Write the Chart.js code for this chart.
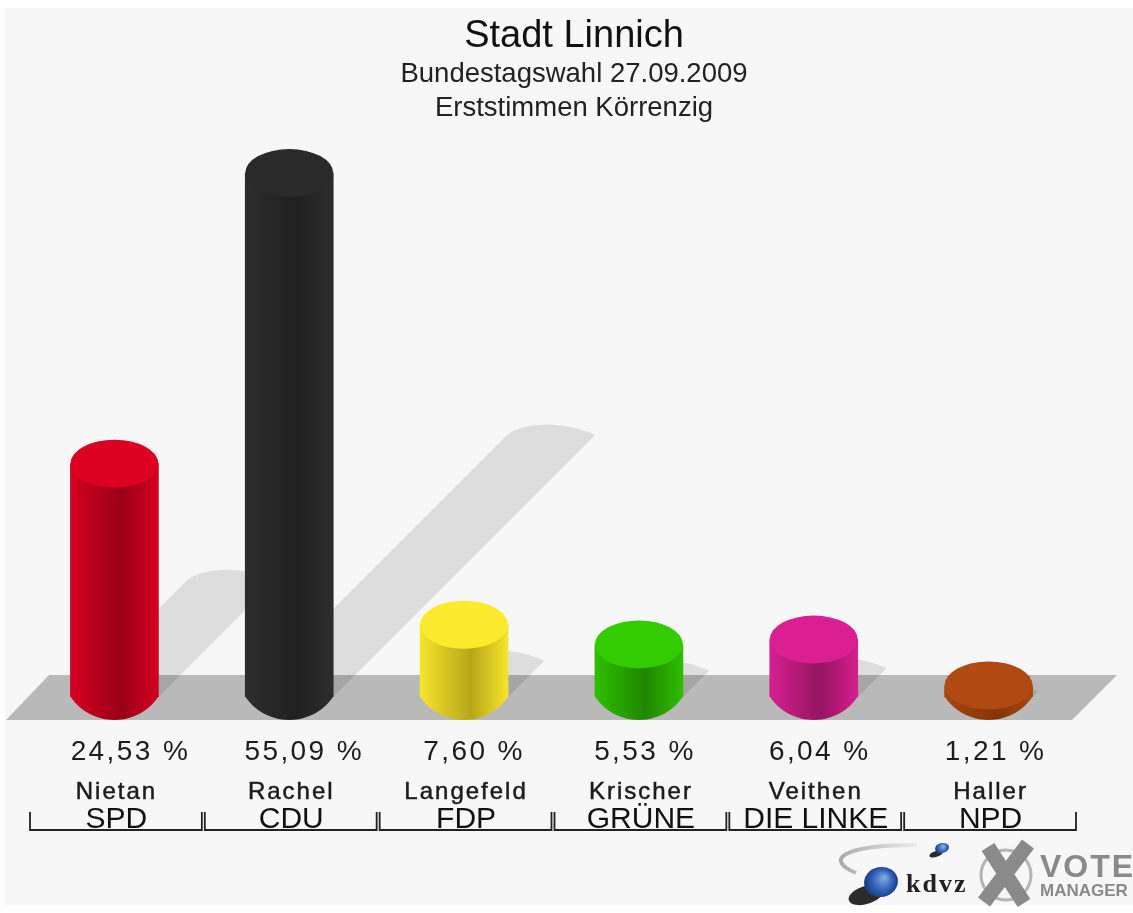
<!DOCTYPE html>
<html>
<head>
<meta charset="utf-8">
<title>Stadt Linnich</title>
<script src="https://cdn.jsdelivr.net/npm/chart.js@4/dist/chart.umd.min.js"></script>
<style>
    html, body { margin: 0; background: #fff; }
    #wrap { width: 1133px; height: 913px; }
    canvas { filter: blur(0.6px); }
</style>
</head>
<body>
<div id="wrap"><canvas id="chart"></canvas></div>
<script>
const titleText = 'Stadt Linnich';
const subtitleLines = ['Bundestagswahl 27.09.2009', 'Erststimmen Körrenzig'];
const parties = ['SPD', 'CDU', 'FDP', 'GRÜNE', 'DIE LINKE', 'NPD'];
const candidates = ['Nietan', 'Rachel', 'Langefeld', 'Krischer', 'Veithen', 'Haller'];
const shares = [24.53, 55.09, 7.60, 5.53, 6.04, 1.21];
const capColors = ['#dc0021', '#2a2a2a', '#fcea2d', '#33cc00', '#d91f92', '#b04a12'];
const sideLight = ['#d4001f', '#2d2d2d', '#f5e52b', '#2fbe00', '#d61f90', '#a8460f'];
const sideDark = ['#9a0018', '#202020', '#b8a61a', '#1f8600', '#951560', '#843509'];
const percentNudge = [16, 15, 10, 6, 6, 7]; // the percent labels sit right of the bars

const FONT = '"Liberation Sans", Arial, sans-serif';
const BAR_W = 88;
const RY = 24;

const sideGradient = (ctx, cx, i) => {
    const g = ctx.createLinearGradient(cx - BAR_W / 2, 0, cx + BAR_W / 2, 0);
    g.addColorStop(0, sideLight[i]);
    g.addColorStop(0.58, sideDark[i]);
    g.addColorStop(1, sideLight[i]);
    return g;
};

const cylinderPlugin = {
    id: 'cylinder',
    beforeDraw(chart) {
        const { ctx, width, height } = chart;
        ctx.save();
        ctx.fillStyle = '#f7f7f7';
        ctx.fillRect(5, 8, width - 5, height - 16);
        ctx.restore();
    },
    beforeDatasetsDraw(chart) {
        const { ctx, chartArea, scales } = chart;
        const base = scales.y.getPixelForValue(0);
        const meta = chart.getDatasetMeta(0);
        // floor
        ctx.save();
        ctx.fillStyle = '#b9b9b9';
        ctx.beginPath();
        ctx.moveTo(chartArea.left - 21, base + 23);
        ctx.lineTo(chartArea.left + 22, base - 22);
        ctx.lineTo(chartArea.right + 41, base - 22);
        ctx.lineTo(chartArea.right - 4, base + 23);
        ctx.closePath();
        ctx.fill();
        // thrown shadows
        ctx.fillStyle = 'rgba(0,0,0,0.1)';
        meta.data.forEach((bar) => {
            const rise = (base - bar.y) / 2;
            const l = bar.x + rise - BAR_W / 2;
            const r = bar.x + rise + BAR_W / 2;
            const y = base - rise;
            ctx.beginPath();
            ctx.moveTo(bar.x - BAR_W / 2, base);
            ctx.lineTo(l, y);
            ctx.bezierCurveTo(l + 18, y - 14, r - 30, y - 14, r, y);
            ctx.lineTo(Math.max(bar.x + BAR_W / 2, r - rise), base);
            ctx.closePath();
            ctx.fill();
        });
        ctx.restore();
    },
    afterDatasetsDraw(chart) {
        const { ctx, scales } = chart;
        const base = scales.y.getPixelForValue(0);
        chart.getDatasetMeta(0).data.forEach((bar, i) => {
            const l = bar.x - BAR_W / 2;
            const r = bar.x + BAR_W / 2;
            ctx.save();
            ctx.fillStyle = sideGradient(ctx, bar.x, i);
            ctx.beginPath();
            ctx.moveTo(l, base - 0.5);
            ctx.bezierCurveTo(l + 8, base + 12, bar.x - 20, base + 23, bar.x, base + 23);
            ctx.bezierCurveTo(bar.x + 20, base + 23, r - 8, base + 12, r, base - 0.5);
            ctx.closePath();
            ctx.fill();
            ctx.fillStyle = capColors[i];
            ctx.beginPath();
            ctx.ellipse(bar.x, bar.y, BAR_W / 2, RY, 0, 0, Math.PI * 2);
            ctx.fill();
            ctx.restore();
        });
    },
    afterDraw(chart) {
        const { ctx, scales } = chart;
        const step = scales.x.getPixelForValue(1) - scales.x.getPixelForValue(0);
        ctx.save();
        ctx.textAlign = 'center';
        ctx.textBaseline = 'middle';
        ctx.fillStyle = '#1c1c1c';
        chart.getDatasetMeta(0).data.forEach((bar, i) => {
            ctx.letterSpacing = '2.4px';
            ctx.font = '28px ' + FONT;
            ctx.fillText(shares[i].toFixed(2).replace('.', ',') + ' %', bar.x + percentNudge[i], 752);
            ctx.letterSpacing = '2px';
            ctx.font = '24px ' + FONT;
            ctx.strokeStyle = '#1c1c1c';
            ctx.lineWidth = 0.5;
            ctx.fillText(candidates[i], bar.x + 2, 792);
            ctx.strokeText(candidates[i], bar.x + 2, 792);
            // bracket under each party
            const l = bar.x - step / 2 + 3;
            const r = bar.x + step / 2;
            ctx.strokeStyle = '#222';
            ctx.lineWidth = 1.8;
            ctx.beginPath();
            ctx.moveTo(l, 812);
            ctx.lineTo(l, 830);
            ctx.lineTo(r, 830);
            ctx.lineTo(r, 812);
            ctx.stroke();
        });
        ctx.letterSpacing = '0px';
        drawLogos(ctx);
        ctx.restore();
    }
};

function drawLogos(ctx) {
    // kdvz swoosh and spheres
    const fade = ctx.createLinearGradient(837, 0, 917, 0);
    fade.addColorStop(0, '#a9a9a9');
    fade.addColorStop(1, '#ececec');
    ctx.strokeStyle = fade;
    ctx.lineWidth = 4;
    ctx.beginPath();
    ctx.moveTo(856, 873);
    ctx.bezierCurveTo(825, 860, 840, 845, 917, 845);
    ctx.stroke();
    ctx.fillStyle = '#2b2b2b';
    ctx.beginPath();
    ctx.ellipse(866, 895, 18, 9, -0.3, 0, Math.PI * 2);
    ctx.fill();
    ctx.beginPath();
    ctx.ellipse(936, 854, 7, 3, -0.3, 0, Math.PI * 2);
    ctx.fill();
    const ball = (x, y, rx, ry) => {
        const g = ctx.createRadialGradient(x + rx * 0.2, y - ry * 0.3, 1, x, y, rx);
        g.addColorStop(0, '#7fa6e0');
        g.addColorStop(0.6, '#2f5fb5');
        g.addColorStop(1, '#163a80');
        ctx.fillStyle = g;
        ctx.beginPath();
        ctx.ellipse(x, y, rx, ry, -0.2, 0, Math.PI * 2);
        ctx.fill();
    };
    ball(881, 882, 17, 15);
    ball(942, 848, 7, 5);
    ctx.fillStyle = '#222';
    ctx.textAlign = 'left';
    ctx.textBaseline = 'alphabetic';
    ctx.letterSpacing = '2px';
    ctx.font = 'bold 26px "Liberation Serif", serif';
    ctx.fillText('kdvz', 906, 892);
    // vote manager cross
    ctx.strokeStyle = '#b5b5b5';
    ctx.lineWidth = 3;
    ctx.beginPath();
    ctx.arc(1006, 875, 25, 0, Math.PI * 2);
    ctx.stroke();
    ctx.strokeStyle = '#8a8a8a';
    ctx.lineWidth = 15;
    ctx.beginPath();
    ctx.moveTo(988, 847);
    ctx.lineTo(1024, 903);
    ctx.moveTo(1028, 844);
    ctx.lineTo(984, 902);
    ctx.stroke();
    ctx.fillStyle = '#8a8a8a';
    ctx.font = 'bold 32px ' + FONT;
    ctx.fillText('VOTE', 1040, 877);
    ctx.letterSpacing = '0px';
    ctx.font = 'bold 17px ' + FONT;
    ctx.fillText('MANAGER', 1040, 896);
}

new Chart(document.getElementById('chart'), {
    type: 'bar',
    data: {
        labels: parties,
        datasets: [{
            data: shares,
            barThickness: BAR_W,
            backgroundColor: (c) => {
                const cx = c.chart.scales.x ? c.chart.scales.x.getPixelForValue(c.dataIndex) : NaN;
                // scale not laid out yet on the first pass
                if (!Number.isFinite(cx)) return '#888';
                return sideGradient(c.chart.ctx, cx, c.dataIndex);
            },
        }],
    },
    plugins: [cylinderPlugin],
    options: {
        responsive: true,
        maintainAspectRatio: false,
        animation: false,
        layout: { padding: { left: 15, right: 0, top: 0, bottom: 0 } },
        plugins: {
            legend: { display: false },
            tooltip: { enabled: false },
            title: {
                display: true,
                text: titleText,
                color: '#111',
                font: { family: FONT, size: 38, weight: 'normal', lineHeight: 1.05 },
                padding: { top: 16.6, bottom: 0 },
            },
            subtitle: {
                display: true,
                text: subtitleLines,
                color: '#222',
                font: { family: FONT, size: 27.5, weight: 'normal', lineHeight: 1.27 },
                padding: 0,
            },
        },
        scales: {
            x: {
                grid: { display: false },
                border: { display: false },
                ticks: {
                    color: '#111',
                    font: { family: FONT, size: 30, lineHeight: 1.2 },
                    padding: 97,
                    labelOffset: 2,
                    maxRotation: 0,
                    autoSkip: false,
                },
                afterFit: (s) => {
                    s.height = 216;
                    // tick padding would otherwise eat into the plot width
                    s.paddingLeft = 0;
                    s.paddingRight = 0;
                },
            },
            y: {
                min: 0,
                max: 60,
                grid: { display: false },
                border: { display: false },
                ticks: { display: false },
                afterFit: (s) => { s.width = 12; },
            },
            spare: {
                position: 'right',
                grid: { display: false },
                border: { display: false },
                ticks: { display: false },
                afterFit: (s) => { s.width = 57; },
            },
        },
    },
});
</script>
</body>
</html>
